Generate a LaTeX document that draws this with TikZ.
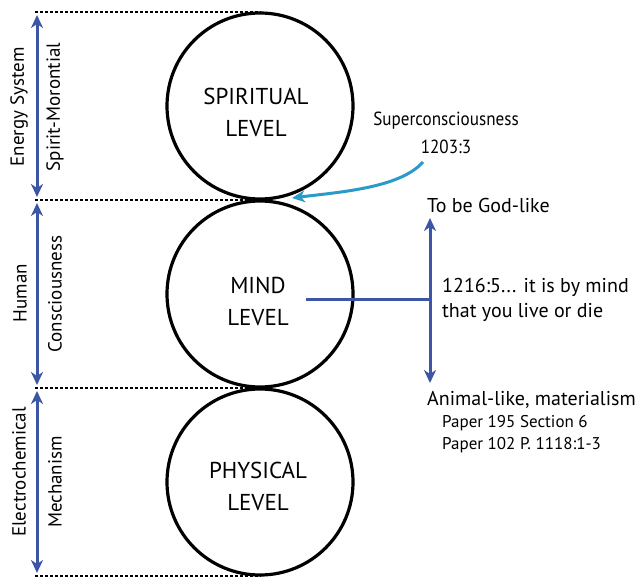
\documentclass[tikz,border=0pt]{standalone}
\usepackage{fontspec}
\setmainfont{PT Sans}
\newfontfamily\narrowfont[FakeStretch=0.9]{PT Sans}
\usetikzlibrary{arrows.meta}
\definecolor{levelblue}{HTML}{3C55A5}
\definecolor{notecyan}{HTML}{2A9BC9}
\tikzset{
  level/.style={circle, draw, line width=3.2pt, minimum size=186pt, inner sep=0pt},
  levelname/.style={align=center, font=\fontsize{23}{32}\selectfont},
  bound/.style={line width=2.2pt, dash pattern=on 3pt off 2pt},
  span/.style={<->, levelblue, line width=3pt},
  side/.style={rotate=90, font=\fontsize{19}{22}\selectfont},
  note/.style={anchor=west, inner xsep=0pt, align=left, font=\fontsize{20}{25}\selectfont},
}
\begin{document}
\begin{tikzpicture}[x=1pt, y=-1pt, >={Stealth[length=13pt,width=12pt,inset=4pt]}]
  \useasboundingbox (0,0) rectangle (639,578);
  % the three levels
  \node[level] (spirit) at (260,106) {};
  \node[level] (mind) at (260,294) {};
  \node[level] (phys) at (260,482) {};
  \node[levelname] (spiritname) at (256,112) {SPIRITUAL\\LEVEL};
  \node[levelname] (mindname) at (258,301) {MIND\\LEVEL};
  \node[levelname] (physname) at (258,486) {PHYSICAL\\LEVEL};
  % boundaries
  \foreach \y [count=\i] in {12,200,388,576}{
    \coordinate (bl\i) at (35,\y);
    \coordinate (br\i) at (261,\y);
    \draw[bound] (bl\i) -- (br\i);
  }
  % side spans
  \foreach \a/\b [count=\i] in {15/197,203/385,391/573}{
    \coordinate (st\i) at (37,\a);
    \coordinate (sb\i) at (37,\b);
    \draw[span] (sb\i) -- (st\i);
  }
  \node[side] (energy) at (19,107) {Energy System};
  \node[side] (morontial) at (55,107) {Spirit-Morontial};
  \node[side] (human) at (20,293) {Human};
  \node[side] (conscious) at (55,294) {Consciousness};
  \node[side] (electro) at (19,472) {Electrochemical};
  \node[side] (mechanism) at (55,482) {Mechanism};
  % superconsciousness
  \node[align=center, font=\narrowfont\fontsize{19}{28}\selectfont] (super) at (446,133) {Superconsciousness\\1203:3};
  \coordinate (curvestart) at (423,162);
  \coordinate (tip) at (292,198);
  \draw[->, notecyan, line width=3pt] (curvestart) .. controls (400,188) and (340,192) .. (tip);
  % mind axis
  \coordinate (up) at (430,218);
  \coordinate (down) at (430,383);
  \coordinate (axis) at (430,299);
  \coordinate (hstart) at (306,299);
  \draw[span] (down) -- (up);
  \draw[levelblue, line width=3pt] (hstart) -- (axis);
  \node[note] (godlike) at (427,205) {To be God-like};
  \node[note] (bymind) at (442,300) {1216:5... it is by mind\\that you live or die};
  \node[note] (animal) at (427,400) {Animal-like, materialism};
  \node[note, font=\fontsize{17}{22}\selectfont] (papers) at (442,434) {Paper 195 Section 6\\Paper 102 P. 1118:1-3};
\end{tikzpicture}
\end{document}
